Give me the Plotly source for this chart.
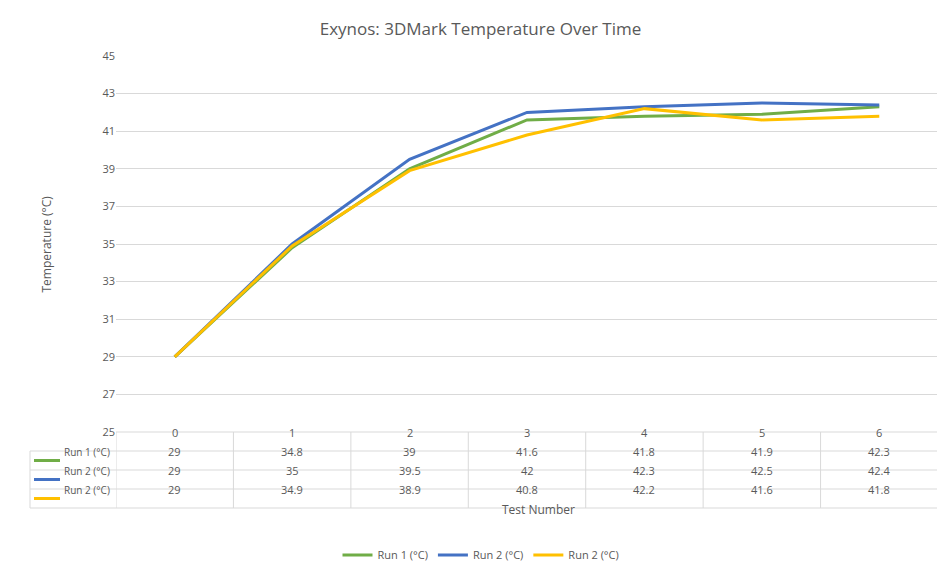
import plotly.graph_objects as go

categories = [0, 1, 2, 3, 4, 5, 6]
series_names = ["Run 1 (°C)", "Run 2 (°C)", "Run 2 (°C)"]
run1 = [29, 34.8, 39, 41.6, 41.8, 41.9, 42.3]
run2 = [29, 35, 39.5, 42, 42.3, 42.5, 42.4]
run3 = [29, 34.9, 38.9, 40.8, 42.2, 41.6, 41.8]
colors = ["#70AD47", "#4472C4", "#FFC000"]
series = [run1, run2, run3]

W, H = 945, 567
L, R, T, B = 108, 15, 48, 143
PH = H - T - B
PW = W - L - R
def py(Y): return (H - B - Y) / PH
def px(X): return (X - L) / PW

fig = go.Figure()
for name, vals, c in zip(series_names, series, colors):
    fig.add_trace(go.Scatter(x=categories, y=vals, mode="lines", name=name,
                             line=dict(color=c, width=3)))

grid = "#D9D9D9"
txt = "#595959"
shapes, ann = [], []
row_lines = [443, 462, 481, 500]
for Y in row_lines:
    shapes.append(dict(type="line", xref="paper", yref="paper", x0=px(22), x1=1,
                       y0=py(Y), y1=py(Y), line=dict(color=grid, width=1)))
for i in range(len(categories) + 1):
    xv = categories[0] - 0.5 + i
    shapes.append(dict(type="line", xref="x", yref="paper", x0=xv, x1=xv,
                       y0=py(424), y1=py(500), line=dict(color=grid, width=1)))
shapes.append(dict(type="line", xref="paper", yref="paper", x0=px(22), x1=px(22),
                   y0=py(443), y1=py(500), line=dict(color=grid, width=1)))
shapes.append(dict(type="line", xref="paper", yref="paper", x0=0, x1=1, y0=0, y1=0,
                   line=dict(color=grid, width=1)))
for c_ in categories:
    ann.append(dict(x=c_, y=py(434), xref="x", yref="paper", text=str(c_),
                    showarrow=False, font=dict(size=11, color=txt)))
row_centers = [452.5, 471.5, 490.5]
for Yc, name, vals, c in zip(row_centers, series_names, series, colors):
    shapes.append(dict(type="line", xref="paper", yref="paper", x0=px(26), x1=px(52),
                       y0=py(Yc), y1=py(Yc), line=dict(color=c, width=3)))
    ann.append(dict(x=px(104), y=py(Yc), xref="paper", yref="paper", text=name,
                    xanchor="right", showarrow=False, font=dict(size=10, color=txt)))
    for c_, v in zip(categories, vals):
        ann.append(dict(x=c_, y=py(Yc), xref="x", yref="paper", text=str(v),
                        showarrow=False, font=dict(size=11, color=txt)))
ann.append(dict(x=px(530), y=py(512), xref="paper", yref="paper", text="Test Number",
                showarrow=False, font=dict(size=12, color=txt)))
ann.append(dict(x=px(27), y=py(236), xref="paper", yref="paper", text="Temperature (°C)",
                textangle=-90, showarrow=False, font=dict(size=12, color=txt)))

fig.update_layout(
    width=W, height=H, margin=dict(l=L, r=R, t=T, b=B, autoexpand=False),
    paper_bgcolor="white", plot_bgcolor="white",
    font=dict(family="Open Sans, Liberation Sans, sans-serif", color=txt),
    title=dict(text="Exynos: 3DMark Temperature Over Time", x=0.5, xanchor="center",
               yref="container", y=1 - 21 / H, yanchor="middle", font=dict(size=17, color=txt)),
    xaxis=dict(range=[-0.5, 6.5], showticklabels=False, showgrid=False, zeroline=False,
               showline=False, ticks=""),
    yaxis=dict(range=[25, 45], tick0=25, dtick=2, gridcolor=grid, zeroline=False, showline=False,
               tickfont=dict(size=11, color=txt), ticks=""),
    legend=dict(orientation="h", xref="container", x=473 / W, xanchor="center",
                yref="container", y=1 - 547 / H, yanchor="middle",
                font=dict(size=11, color=txt)),
    shapes=shapes, annotations=ann,
)
fig.write_html("out.html")
